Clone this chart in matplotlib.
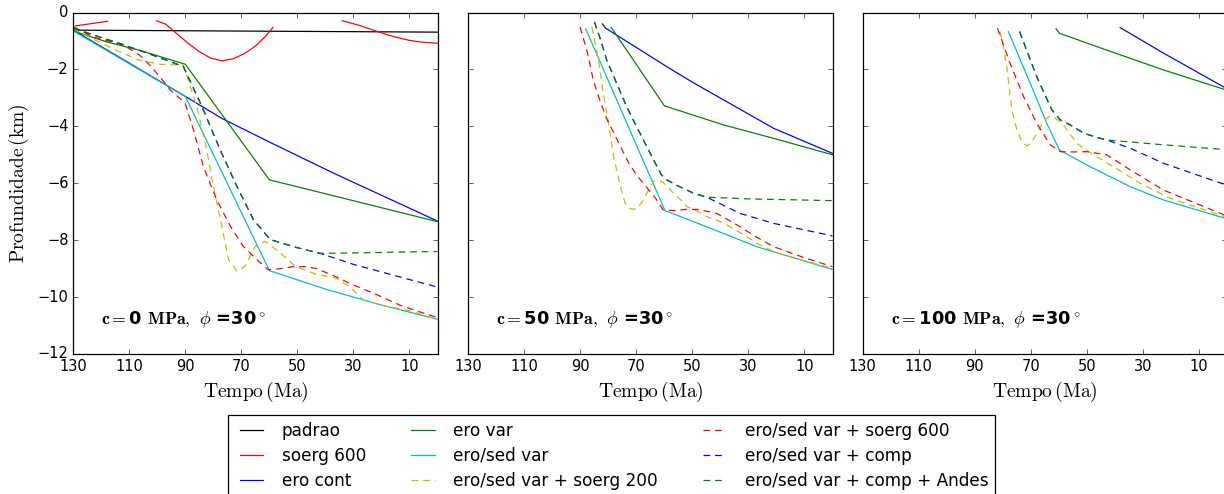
import numpy as np
import matplotlib
matplotlib.use("Agg")
import matplotlib.pyplot as plt

nan = np.nan

# ---- c = 0 MPa ----
c0_padrao_t = [130, 0]
c0_padrao_z = [-0.62, -0.69]
c0_soerg_t = [129.2, 117.8, nan, 100.3, 97, 93, 89, 85, 81, 77, 73, 69, 65, 61.5, 58.7,
              nan, 34, 28, 22, 16, 10, 5, 0]
c0_soerg_z = [-0.47, -0.31, nan, -0.29, -0.41, -0.75, -1.08, -1.38, -1.60, -1.70, -1.63,
              -1.45, -1.18, -0.85, -0.52, nan, -0.29, -0.45, -0.65, -0.84, -0.98, -1.05, -1.08]
c0_erocont_t = [130, 110, 90, 77, 59, 37, 0]
c0_erocont_z = [-0.62, -1.78, -2.95, -3.72, -4.6, -5.65, -7.33]
c0_erovar_t = [130, 129, 118.2, 106.3, 90, 60, 0]
c0_erovar_z = [-0.5, -0.68, -1.03, -1.33, -1.82, -5.88, -7.35]
c0_erosed_t = [130, 90, 60, 40, 20, 0]
c0_erosed_z = [-0.65, -2.95, -9.07, -9.72, -10.28, -10.78]
c0_s200_t = [130, 122, 114.6, 106.3, 99, 93, 90.8, 85.9, 82.4, 80, 77, 74.6, 71.6, 68.7,
             65.1, 61.5, 56.2, 50.8, 43.2, 36, 31.3, 26.6, 19.4, 10, 0]
c0_s200_z = [-0.58, -0.98, -1.33, -1.68, -1.82, -1.84, -1.84, -3.3, -4.82, -6.11, -7.5,
             -8.68, -9.09, -8.92, -8.22, -8.04, -8.44, -8.92, -9.2, -9.34, -9.64, -10.1,
             -10.3, -10.48, -10.78]
c0_s600_t = [130, 123, 112, 106.3, 102.7, 98.6, 95.4, 90.1, 87.1, 83.6, 78.8, 74, 69.3,
             64.5, 60.4, 56, 51.5, 47, 43.2, 37, 31.3, 22, 13.5, 7, 0]
c0_s600_z = [-0.5, -0.86, -1.15, -1.5, -1.85, -2.32, -2.72, -3.18, -4.12, -5.41, -6.58,
             -7.5, -8.22, -8.68, -9.04, -9.0, -8.93, -8.93, -9.0, -9.25, -9.52, -9.9,
             -10.28, -10.5, -10.72]
c0_comp_t = [130, 120.6, 113.4, 102.7, 92, 90.7, 84.1, 77.6, 71.6, 65.7, 59.7, 50.2, 42,
             30, 15, 0]
c0_comp_z = [-0.55, -0.86, -1.09, -1.46, -1.85, -1.9, -3.3, -4.82, -6.11, -7.28, -7.98,
             -8.26, -8.46, -8.85, -9.25, -9.65]
c0_andes_t = [130, 120.6, 113.4, 102.7, 92, 90.7, 84.1, 77.6, 71.6, 65.7, 59.7, 50.2, 42,
              30, 15, 0]
c0_andes_z = [-0.55, -0.86, -1.09, -1.46, -1.85, -1.9, -3.3, -4.82, -6.11, -7.28, -7.98,
              -8.26, -8.46, -8.45, -8.42, -8.4]

# ---- c = 50 MPa ----
c50_erocont_t = [82.1, 81, 70, 59.2, 50, 38.9, 21, 0]
c50_erocont_z = [-0.40, -0.55, -1.23, -1.90, -2.45, -3.07, -4.07, -4.95]
c50_erovar_t = [79, 60, 38.9, 20, 0]
c50_erovar_z = [-0.52, -3.28, -3.95, -4.45, -5.0]
c50_erosed_t = [88.1, 59.8, 44.9, 27, 0]
c50_erosed_z = [-0.57, -6.96, -7.53, -8.23, -9.03]
c50_s200_t = [85.9, 84.5, 83, 81.9, 80, 78.2, 75.8, 74, 72.5, 71, 69, 67.5, 65.5, 64, 62,
              60.4, 58.5, 56.8, 54, 52, 48, 44.9, 40, 36.5, 31, 27, 20, 15, 8, 0]
c50_s200_z = [-0.51, -1.2, -2.0, -2.79, -3.86, -5.03, -6.08, -6.71, -6.88, -6.92, -6.8,
              -6.59, -6.2, -5.94, -5.9, -5.98, -6.15, -6.35, -6.6, -6.82, -7.0, -7.17, -7.35,
              -7.53, -7.85, -8.11, -8.45, -8.58, -8.78, -8.99]
c50_s600_t = [90.1, 87.5, 85.4, 83, 80.6, 77, 72.9, 70, 66.3, 63, 60.4, 56.8, 52, 48.5, 45,
              41.3, 37, 33, 27, 21, 10, 0]
c50_s600_z = [-0.51, -1.4, -2.37, -3.1, -3.73, -4.45, -5.26, -5.7, -6.15, -6.55, -6.94,
              -6.96, -6.92, -6.92, -6.98, -7.06, -7.3, -7.53, -7.9, -8.23, -8.62, -8.93]
c50_comp_t = [85, 82.8, 80.6, 77, 73.5, 70, 66.3, 63.5, 61, 59.2, 55, 49.6, 44.9, 33, 21, 0]
c50_comp_z = [-0.33, -0.95, -1.67, -2.5, -3.3, -4.0, -4.71, -5.25, -5.71, -5.88, -6.1,
              -6.35, -6.49, -7.06, -7.41, -7.85]
c50_andes_t = [85, 82.8, 80.6, 77, 73.5, 70, 66.3, 63.5, 61, 59.2, 55, 49.6, 44.9, 30, 15, 0]
c50_andes_z = [-0.33, -0.95, -1.67, -2.5, -3.3, -4.0, -4.71, -5.25, -5.71, -5.88, -6.1,
               -6.35, -6.49, -6.55, -6.58, -6.61]

# ---- c = 100 MPa ----
c100_erocont_t = [38.1, 22.6, 0]
c100_erocont_z = [-0.53, -1.43, -2.68]
c100_erovar_t = [61, 59.8, 46.4, 22.6, 0]
c100_erovar_z = [-0.57, -0.73, -1.2, -2.02, -2.73]
c100_erosed_t = [78, 70.2, 64.3, 59.8, 48.8, 34.5, 22.6, 0]
c100_erosed_z = [-0.67, -2.49, -3.89, -4.83, -5.42, -6.12, -6.59, -7.25]
c100_s200_t = [81, 79.8, 78.6, 77.5, 76.8, 75, 73.2, 71.4, 70, 68.5, 65.5, 63.5, 62.1, 60,
               58.3, 53.6, 47.6, 40.5, 31, 20.2, 0]
c100_s200_z = [-0.67, -1.2, -1.9, -2.8, -3.42, -4.1, -4.54, -4.69, -4.6, -4.36, -3.83,
               -3.66, -3.66, -3.8, -3.95, -4.6, -5.0, -5.42, -6.0, -6.53, -7.2]
c100_s600_t = [81.9, 77.4, 72.6, 67.9, 63.1, 59.5, 55, 50, 42.9, 34.5, 22.6, 0]
c100_s600_z = [-0.55, -1.78, -2.95, -3.89, -4.65, -4.89, -4.9, -4.89, -5.0, -5.53, -6.24, -7.15]
c100_comp_t = [74, 67.9, 62.5, 59.5, 55, 51.2, 46, 42.9, 34.5, 22.6, 0]
c100_comp_z = [-0.67, -2.25, -3.42, -3.77, -4.0, -4.24, -4.4, -4.48, -4.77, -5.3, -6.07]
c100_andes_t = [74, 67.9, 62.5, 59.5, 55, 51.2, 46, 42.9, 22.6, 0]
c100_andes_z = [-0.67, -2.25, -3.42, -3.77, -4.0, -4.24, -4.4, -4.48, -4.65, -4.82]

labels = ["padrao", "soerg 600", "ero cont", "ero var", "ero/sed var",
          "ero/sed var + soerg 200", "ero/sed var + soerg 600",
          "ero/sed var + comp", "ero/sed var + comp + Andes"]
cores = ["k", "r", "b", "g", "c", "y", "r", "b", "g"]
tracejado = [False, False, False, False, False, True, True, True, True]
coesao = [0, 50, 100]

paineis = [
    [(c0_padrao_t, c0_padrao_z), (c0_soerg_t, c0_soerg_z), (c0_erocont_t, c0_erocont_z),
     (c0_erovar_t, c0_erovar_z), (c0_erosed_t, c0_erosed_z), (c0_s200_t, c0_s200_z),
     (c0_s600_t, c0_s600_z), (c0_comp_t, c0_comp_z), (c0_andes_t, c0_andes_z)],
    [None, None, (c50_erocont_t, c50_erocont_z), (c50_erovar_t, c50_erovar_z),
     (c50_erosed_t, c50_erosed_z), (c50_s200_t, c50_s200_z), (c50_s600_t, c50_s600_z),
     (c50_comp_t, c50_comp_z), (c50_andes_t, c50_andes_z)],
    [None, None, (c100_erocont_t, c100_erocont_z), (c100_erovar_t, c100_erovar_z),
     (c100_erosed_t, c100_erosed_z), (c100_s200_t, c100_s200_z), (c100_s600_t, c100_s600_z),
     (c100_comp_t, c100_comp_z), (c100_andes_t, c100_andes_z)],
]


def main():
    plt.style.use("classic")
    plt.rcParams["figure.facecolor"] = "white"
    plt.rcParams["savefig.facecolor"] = "white"
    dpi = 88
    fig = plt.figure(figsize=(1224 / dpi, 494 / dpi), dpi=dpi)

    lefts = [73.3, 468.3, 862.7]
    handles = []
    for i, dados in enumerate(paineis):
        ax = fig.add_axes([lefts[i] / 1224, 1 - 354 / 494, 364.2 / 1224, 341.5 / 494])
        for j, d in enumerate(dados):
            if d is None:
                continue
            if tracejado[j]:
                ln, = ax.plot(d[0], d[1], color=cores[j], ls="--", dashes=(5.5, 4),
                              label=labels[j])
            else:
                ln, = ax.plot(d[0], d[1], color=cores[j], label=labels[j])
            if i == 0:
                handles.append(ln)
        ax.set_xlim(130, 0)
        ax.set_ylim(-12, 0)
        ax.set_xticks([130, 110, 90, 70, 50, 30, 10])
        ax.set_yticks(range(-12, 1, 2))
        ax.set_xlabel(r"$\mathrm{Tempo\,(Ma)}$", fontsize=16)
        if i == 0:
            ax.set_ylabel(r"$\mathrm{Profundidade\,(km)}$", fontsize=16)
        else:
            ax.set_yticklabels([])
        ax.text(120, -10.8, r"$\mathbf{c=}$%d $\mathbf{MPa,}$ $\phi$ =30$^\circ$" % coesao[i],
                fontsize=14.5, fontweight="bold", va="center", ha="left")

    fig.legend(handles, labels, loc="upper left", bbox_to_anchor=(228 / 1224, 1 - 415 / 494),
               ncol=3, fontsize=13.8, borderaxespad=0, labelspacing=0.41,
               columnspacing=2.35)
    fig.savefig("out.png", dpi=dpi)


main()
